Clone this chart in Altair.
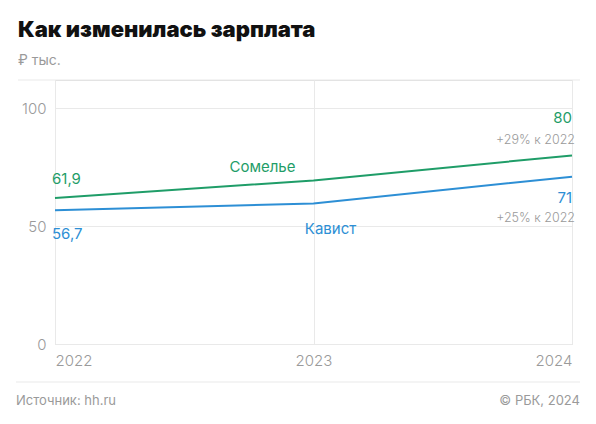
import altair as alt
import pandas as pd

years = [2022, 2023, 2024]
sommelier = [61.9, 69.4, 80.0]
cavist = [56.7, 59.6, 71.0]
series_names = ["Сомелье", "Кавист"]
start_labels = ["61,9", "56,7"]
end_labels = ["80", "71"]
change_labels = ["+29% к 2022", "+25% к 2022"]

GREEN = "#1f9d68"
BLUE = "#2d8fd5"
GRAY = "#9a9a9a"
GRID = "#e9e9e9"
FONT = "Inter"

rows = []
for name, vals in zip(series_names, [sommelier, cavist]):
    for y, v in zip(years, vals):
        rows.append({"year": str(y), "value": v, "series": name})
df = pd.DataFrame(rows)
year_labels = [str(v) for v in years]

color = alt.Color("series:N", scale=alt.Scale(domain=series_names, range=[GREEN, BLUE]), legend=None)

x = alt.X("year:O", scale=alt.Scale(type="point", domain=year_labels, padding=0),
          axis=alt.Axis(grid=True, domain=False, ticks=False, labelAngle=0,
                        labelPadding=9, labelFontSize=15, labelColor=GRAY, labelFont=FONT,
                        labelFontWeight=300, labelOverlap=False,
                        labelAlign=alt.expr("datum.value == '2022' ? 'left' : datum.value == '2024' ? 'right' : 'center'"),
                        gridColor=GRID, title=None))
y = alt.Y("value:Q", scale=alt.Scale(domain=[0, 112], nice=False),
          axis=alt.Axis(values=[0, 50, 100], grid=True, domain=False, ticks=False,
                        labelPadding=9, labelFontSize=15, labelColor=GRAY, labelFont=FONT,
                        labelFontWeight=300, labelOverlap=False,
                        gridColor=GRID, title=None, labelBaseline="middle"))

lines = alt.Chart(df).mark_line(strokeWidth=2).encode(x=x, y=y, color=color)

def pt(name, idx, label):
    vals = sommelier if name == "Сомелье" else cavist
    return pd.DataFrame({"year": [year_labels[idx]], "value": [vals[idx]], "series": [name], "label": [label]})

def txt(data, col, align, dx, dy, size=15, fixed_color=None, weight="normal"):
    c = alt.value(fixed_color) if fixed_color else color
    return alt.Chart(data).mark_text(align=align, baseline="middle", dx=dx, dy=dy,
                                     fontSize=size, font=FONT, fontWeight=weight).encode(
        x=x, y=y, text=f"{col}:N", color=c)

labels = [
    txt(pt("Сомелье", 0, start_labels[0]), "label", "left", -3, -19),
    txt(pt("Кавист", 0, start_labels[1]), "label", "left", -3, 24),
    txt(pt("Сомелье", 2, end_labels[0]), "label", "right", 0, -37),
    txt(pt("Сомелье", 2, change_labels[0]), "label", "right", 3, -15, 12.5, GRAY, 300),
    txt(pt("Кавист", 2, end_labels[1]), "label", "right", 0, 21),
    txt(pt("Кавист", 2, change_labels[1]), "label", "right", 3, 41, 12.5, GRAY, 300),
    txt(pt("Сомелье", 1, "Сомелье"), "label", "center", -51, -13),
    txt(pt("Кавист", 1, "Кавист"), "label", "center", 17, 25),
]

anno = pd.DataFrame({"a": [0]})
top_rule = alt.Chart(anno).mark_rule(color=GRID, strokeWidth=1).encode(
    x=alt.value(-37), x2=alt.value(525), y=alt.value(0))
bottom_rule = alt.Chart(anno).mark_rule(color=GRID, strokeWidth=1).encode(
    x=alt.value(-39), x2=alt.value(525), y=alt.value(302))
title = alt.Chart(anno).mark_text(align="left", baseline="middle", fontSize=22, fontWeight=900,
                                  font=FONT, color="#111111").encode(
    x=alt.value(-37), y=alt.value(-50), text=alt.value("Как изменилась зарплата"))
subtitle = alt.Chart(anno).mark_text(align="left", baseline="middle", fontSize=14,
                                     font=FONT, color=GRAY).encode(
    x=alt.value(-37), y=alt.value(-19), text=alt.value("₽ тыс."))
source = alt.Chart(anno).mark_text(align="left", baseline="middle", fontSize=13,
                                   font=FONT, color=GRAY).encode(
    x=alt.value(-39), y=alt.value(321), text=alt.value("Источник: hh.ru"))
copy = alt.Chart(anno).mark_text(align="right", baseline="middle", fontSize=13,
                                 font=FONT, color=GRAY).encode(
    x=alt.value(525), y=alt.value(321), text=alt.value("© РБК, 2024"))

chart = alt.layer(lines, *labels, top_rule, bottom_rule, title, subtitle, source, copy).properties(
    width=517, height=264,
    autosize=alt.AutoSizeParams(type="none"),
    padding={"left": 47, "top": 72, "right": 16, "bottom": 70},
).configure_view(stroke=None).configure(background="white")

chart.save("out.html", embed_options={"renderer": "svg", "actions": False})
